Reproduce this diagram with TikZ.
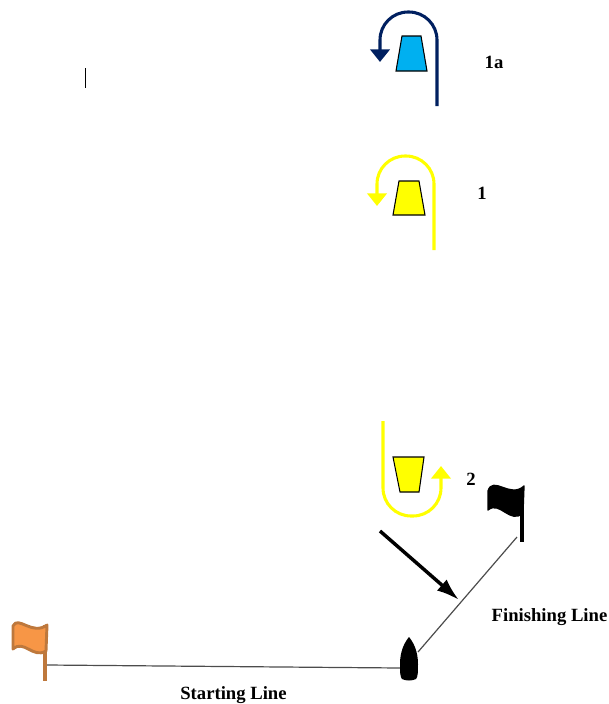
\documentclass[tikz,border=0pt]{standalone}
\usepackage{fontspec}
\setmainfont{Liberation Serif}
\usetikzlibrary{arrows.meta}
\definecolor{marknavy}{RGB}{0,32,96}
\definecolor{markcyan}{RGB}{0,176,240}
\definecolor{markyellow}{RGB}{255,255,0}
\definecolor{flagorange}{RGB}{247,150,70}
\definecolor{flagedge}{RGB}{190,120,60}
\tikzset{
  turn/.style={line width=2.3pt,rounded corners=21pt,-{Triangle[length=9.5pt,width=14.5pt]}},
  buoy/.style={draw=black,line width=0.8pt,line join=miter},
  course/.style={draw=black!70,line width=0.9pt},
  wind/.style={line width=2.6pt,-{Latex[length=17pt,width=11pt]}},
  lab/.style={font=\bfseries\fontsize{14}{16}\selectfont,inner sep=0pt},
}
\begin{document}
\begin{tikzpicture}[x=0.75pt,y=-0.75pt]
  \path[use as bounding box] (0,0) rectangle (609,704);

  % end points of the two lines
  \coordinate (STARTPOLE) at (47,665);
  \coordinate (BOATW) at (400,668);
  \coordinate (BOATE) at (418,652);
  \coordinate (FINPOLE) at (517,537);
  \coordinate (WINDA) at (380,531);
  \coordinate (WINDB) at (459,600);

  % cursor tick
  \draw[black,line width=0.7pt] (85,68)--(85,88);

  % mark 1a
  \draw[buoy,fill=markcyan] (402,36)--(421,36)--(427,71)--(396,71)--cycle;
  \draw[turn,marknavy] (437,106)--(437,12)--(380,12)--(380,62);
  \node[lab] (L1A) at (494,62) {1a};

  % mark 1
  \draw[buoy,fill=markyellow] (399,181)--(419,181)--(425,215)--(393,215)--cycle;
  \draw[turn,markyellow] (434,250)--(434,156)--(377,156)--(377,206);
  \node[lab] (L1) at (482,193) {1};

  % mark 2
  \draw[buoy,fill=markyellow] (393,457)--(424,457)--(419,492)--(400,492)--cycle;
  \draw[turn,markyellow] (383,421)--(383,516)--(441,516)--(441,466);
  \node[lab] (L2) at (471,479) {2};

  % lines
  \draw[course] (STARTPOLE)--(BOATW);
  \draw[course] (BOATE)--(FINPOLE);
  \draw[wind] (WINDA)--(WINDB);
  \node[lab] (FIN) at (549.5,617) {Finishing Line};
  \node[lab] (STA) at (233.5,695) {Starting Line};

  % boat
  \fill[black] (409,637) .. controls (414,643) and (418,652) .. (418,664)
    .. controls (418,671) and (418,677) .. (416,679)
    .. controls (412,681) and (406,681) .. (402,679)
    .. controls (400,677) and (400,671) .. (400,664)
    .. controls (400,652) and (404,643) .. (409,637) -- cycle;

  % orange flag
  \draw[flagedge,line width=2.6pt] (45,625)--(45,681);
  \draw[flagedge,line width=2.2pt,fill=flagorange,line join=round]
    (13,626) .. controls (18,615) and (32,636) .. (47,625) -- (46,651)
    .. controls (33,659) and (24,639) .. (13,649) -- cycle;

  % black flag
  \draw[black,line width=2.8pt] (522,488)--(522,542);
  \fill[black,draw=black,line width=1pt,line join=round]
    (488,491) .. controls (493,475) and (510,499) .. (524,486) -- (523,513)
    .. controls (510,525) and (500,500) .. (488,510) -- cycle;
\end{tikzpicture}
\end{document}
